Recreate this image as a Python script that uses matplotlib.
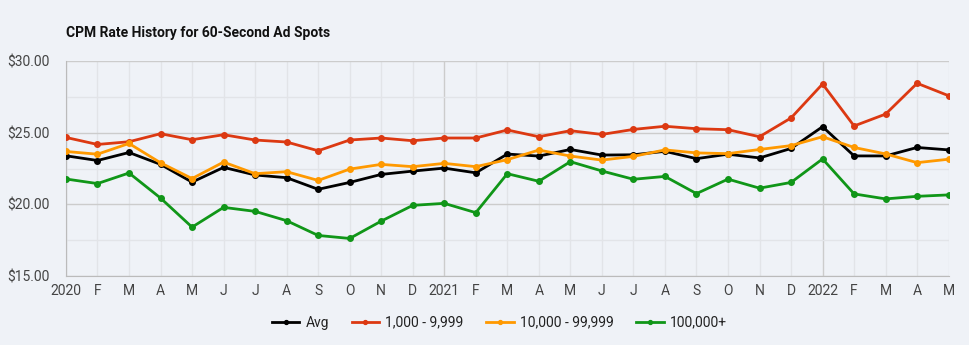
import matplotlib
matplotlib.use("Agg")
import matplotlib.pyplot as plt
import numpy as np

plt.rcParams["font.family"] = ["Roboto", "DejaVu Sans"]

# Monthly CPM rates, Jan 2020 - May 2022
months = ["2020", "F", "M", "A", "M", "J", "J", "A", "S", "O", "N", "D",
          "2021", "F", "M", "A", "M", "J", "J", "A", "S", "O", "N", "D",
          "2022", "F", "M", "A", "M"]

avg = [23.39, 23.06, 23.62, 22.79, 21.55, 22.58, 22.05, 21.86, 21.05, 21.53, 22.09, 22.32,
       22.53, 22.20, 23.51, 23.37, 23.83, 23.44, 23.46, 23.70, 23.19, 23.50, 23.24, 23.90,
       25.42, 23.38, 23.38, 23.97, 23.80]
tier_1k = [24.67, 24.18, 24.37, 24.93, 24.51, 24.86, 24.49, 24.35, 23.74, 24.49, 24.63, 24.44,
           24.63, 24.63, 25.19, 24.72, 25.14, 24.88, 25.23, 25.45, 25.28, 25.21, 24.72, 26.03,
           28.40, 25.47, 26.30, 28.45, 27.58]
tier_10k = [23.69, 23.50, 24.25, 22.90, 21.80, 22.95, 22.14, 22.28, 21.67, 22.46, 22.79, 22.63,
            22.86, 22.63, 23.12, 23.79, 23.37, 23.09, 23.35, 23.80, 23.59, 23.54, 23.83, 24.10,
            24.72, 23.97, 23.52, 22.91, 23.15]
tier_100k = [21.77, 21.45, 22.19, 20.44, 18.41, 19.79, 19.51, 18.86, 17.83, 17.62, 18.83, 19.93,
             20.07, 19.42, 22.14, 21.61, 22.98, 22.33, 21.75, 21.95, 20.75, 21.76, 21.13, 21.53,
             23.17, 20.73, 20.38, 20.56, 20.66]

series = [
    ("Avg", avg, "#000000"),
    ("1,000 - 9,999", tier_1k, "#dc3912"),
    ("10,000 - 99,999", tier_10k, "#ff9900"),
    ("100,000+", tier_100k, "#109618"),
]

bg = "#eff2f7"
fig = plt.figure(figsize=(9.7, 3.45), dpi=100, facecolor=bg)
ax = fig.add_axes([0.068, 0.2, 0.91, 0.623], facecolor=bg)

x = np.arange(len(months))

# grid: light monthly lines, darker at year boundaries and every $5
for i in x:
    is_year = months[i].isdigit()
    ax.axvline(i, color="#cccccc" if is_year else "#e2e4e8", lw=1.0, zorder=0)
for v in np.arange(15, 30.1, 2.5):
    major = v % 5 == 0
    ax.axhline(v, color="#cccccc" if major else "#e2e4e8", lw=1.0, zorder=0)

for name, vals, color in series:
    ax.plot(x, vals, color=color, lw=2, marker="o", markersize=4, label=name, zorder=3)

ax.set_xlim(0, len(months) - 1)
ax.set_ylim(15, 30)
ax.set_yticks([15, 20, 25, 30])
ax.set_yticklabels([f"${v:.2f}" for v in [15, 20, 25, 30]])
ax.set_xticks(x)
ax.set_xticklabels(months)
ax.tick_params(axis="both", length=0, labelsize=10, colors="#444444")
ax.tick_params(axis="x", pad=6)
ax.tick_params(axis="y", pad=12)
for s in ["top", "right"]:
    ax.spines[s].set_visible(False)
ax.spines["left"].set_color("#bbbbbb")
ax.spines["bottom"].set_color("#bbbbbb")

fig.text(0.068, 0.905, "CPM Rate History for 60-Second Ad Spots", fontsize=10,
         fontweight="bold", color="#111111", ha="left", va="center")

fig.legend(loc="center", bbox_to_anchor=(0.515, 0.065), ncol=4, frameon=False,
           fontsize=10, handlelength=1.95, columnspacing=1.65, handletextpad=0.45,
           markerscale=0.7, labelcolor="#222222")

fig.savefig("out.png", dpi=100, facecolor=bg)
